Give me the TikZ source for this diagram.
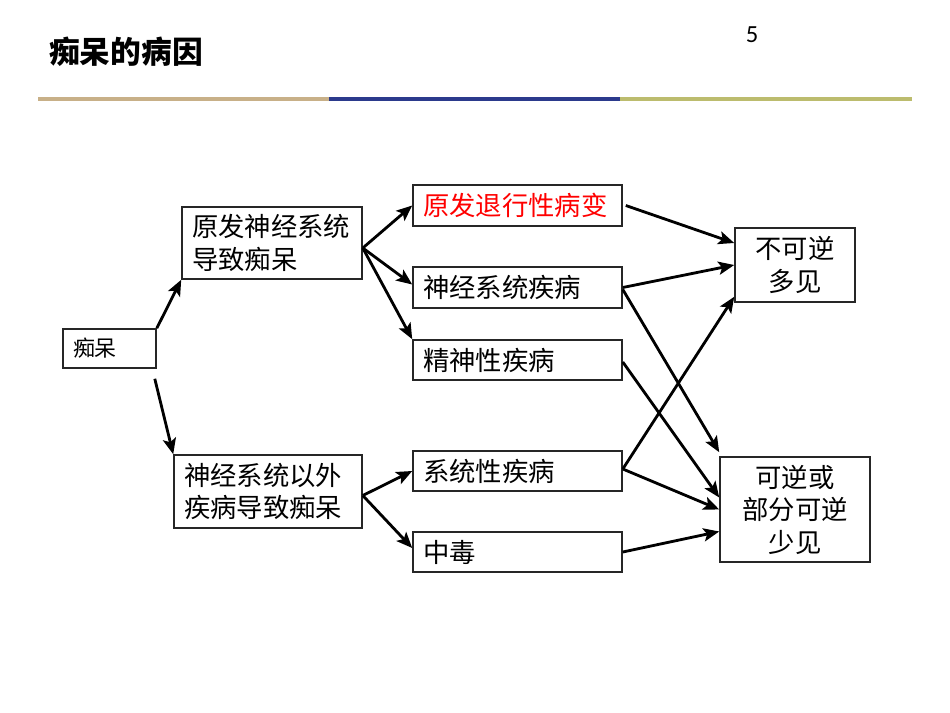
\documentclass[tikz,border=0pt]{standalone}
\usepackage{fontspec}
\setmainfont{Noto Sans CJK SC}
\newfontfamily\numfont{Carlito}
\usetikzlibrary{arrows.meta,calc}
\definecolor{lineTan}{HTML}{C8B088}
\definecolor{lineBlue}{HTML}{2B3A8C}
\definecolor{lineOlive}{HTML}{BCBC6E}
\definecolor{boxRed}{HTML}{FF0000}
\tikzset{
  box/.style={draw=black!85, line width=0.9pt, rectangle, inner ysep=0pt, font=\fontsize{15}{18.5}\selectfont},
  lbox/.style={box, align=left, inner xsep=0.2cm},
  cbox/.style={box, align=center, inner xsep=0.1cm},
  conn/.style={line width=1.6pt, -{Stealth[length=9pt,width=7.5pt,inset=2pt]}},
}
\begin{document}
\begin{tikzpicture}[x=0.02cm,y=-0.02cm]
\useasboundingbox (0,0) rectangle (950,713);
% title and page number
\node[anchor=west, font=\fontsize{17.5}{20}\selectfont\bfseries] (title) at (43,52) {痴呆的病因};
\node[font=\numfont\fontsize{14}{16}\selectfont] (pg) at (752,35) {5};
% header rule
\draw[lineTan, line width=1.8pt] (38,99) -- (329,99);
\draw[lineBlue, line width=1.8pt] (329,99) -- (620,99);
\draw[lineOlive, line width=1.8pt] (620,99) -- (912,99);
% boxes
\node[lbox, font=\fontsize{12.5}{15}\selectfont, text width=73*0.02cm, minimum height=39*0.02cm] (chidai) at (109.5,348.5) {痴呆};
\node[lbox, text width=160*0.02cm, minimum height=72*0.02cm] (yuanfa) at (272,243) {原发神经系统\\导致痴呆};
\node[lbox, text width=168*0.02cm, minimum height=73*0.02cm] (waibu) at (268,491.5) {神经系统以外\\疾病导致痴呆};
\node[lbox, text width=189*0.02cm, minimum height=41*0.02cm, text=boxRed] (tuixing) at (517.5,205.5) {原发退行性病变};
\node[lbox, text width=189*0.02cm, minimum height=41*0.02cm] (shenjing) at (517.5,287.5) {神经系统疾病};
\node[lbox, text width=189*0.02cm, minimum height=40*0.02cm] (jingshen) at (517.5,360) {精神性疾病};
\node[lbox, text width=189*0.02cm, minimum height=40*0.02cm] (xitong) at (517.5,471) {系统性疾病};
\node[lbox, text width=189*0.02cm, minimum height=40*0.02cm] (zhongdu) at (517.5,552) {中毒};
\node[cbox, text width=110*0.02cm, minimum height=74*0.02cm] (bukeni) at (795,265) {不可逆\\多见};
\node[cbox, text width=140*0.02cm, minimum height=105*0.02cm] (keni) at (795,509.5) {可逆或\\部分可逆\\少见};
% connectors
\draw[conn] (chidai.north east) -- (yuanfa.south west);
\draw[conn] ($(chidai.south east)+(-2,10)$) -- (waibu.north west);
\coordinate (ys) at ($(yuanfa.east)+(0,5)$);
\draw[conn] (ys) -- (tuixing.west);
\draw[conn] (ys) -- ($(shenjing.west)+(0,-3)$);
\draw[conn] (ys) -- (jingshen.north west);
\coordinate (ws) at ($(waibu.east)+(0,4)$);
\draw[conn] (ws) -- (xitong.west);
\draw[conn] (ws) -- ($(zhongdu.west)+(0,-4)$);
\draw[conn] ($(tuixing.east)+(3,0)$) -- ($(bukeni.west)+(0,-22)$);
\draw[conn] (shenjing.east) -- (bukeni.west);
\draw[conn] ($(shenjing.east)+(0,2)$) -- ($(keni.north west)+(0,-4)$);
\draw[conn] ($(jingshen.east)+(0,2)$) -- ($(keni.west)+(0,-12)$);
\draw[conn] ($(xitong.east)+(0,-2)$) -- ($(bukeni.south west)+(0,-6)$);
\draw[conn] ($(xitong.east)+(0,-2)$) -- ($(keni.west)+(0,0)$);
\draw[conn] (zhongdu.east) -- ($(keni.west)+(0,22)$);
\end{tikzpicture}
\end{document}
